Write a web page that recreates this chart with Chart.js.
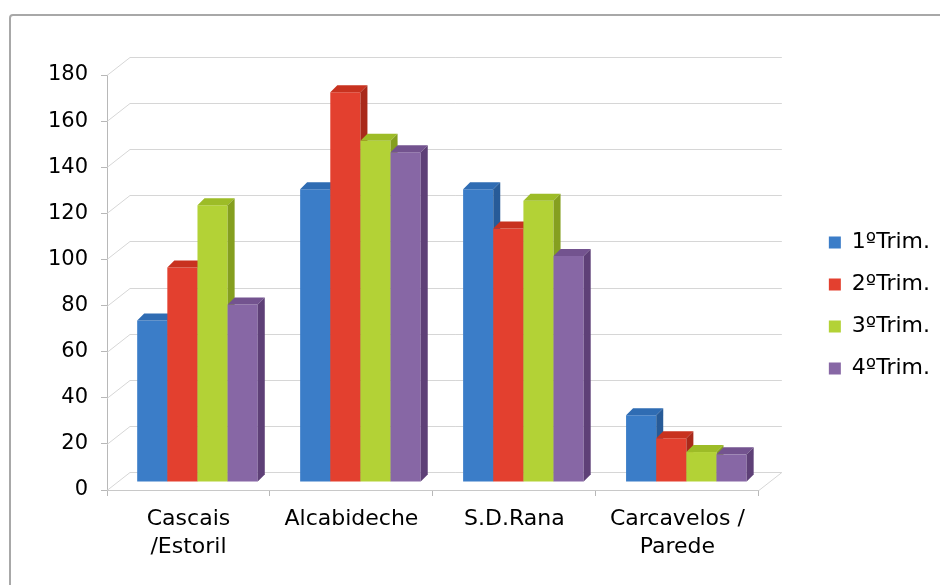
<!DOCTYPE html>
<html>
<head>
<meta charset="utf-8">
<script src="https://cdn.jsdelivr.net/npm/chart.js@4"></script>
<style>
  html, body { margin: 0; padding: 0; background: #fff; overflow: hidden; }
  #wrap { position: relative; width: 940px; height: 585px; }
  #frame { position: absolute; left: 9px; top: 14px; width: 1000px; height: 1000px;
           border: 2px solid #a8a8a8; border-radius: 4px; box-sizing: border-box; pointer-events: none; }
  canvas { position: absolute; left: 0; top: 0; }
</style>
</head>
<body>
<div id="wrap">
  <canvas id="c" width="940" height="585"></canvas>
  <div id="frame"></div>
</div>
<script>
const categories = [["Cascais", "/Estoril"], "Alcabideche", "S.D.Rana", ["Carcavelos /", "Parede"]];
const seriesNames = ["1ºTrim.", "2ºTrim.", "3ºTrim.", "4ºTrim."];
const trim1 = [70, 127, 127, 29];
const trim2 = [93, 169, 110, 19];
const trim3 = [120, 148, 122, 13];
const trim4 = [77, 143, 98, 12];
const yTicks = [0, 20, 40, 60, 80, 100, 120, 140, 160, 180];

const frontColors = ["#3b7dc8", "#e3402f", "#b3d236", "#8767a5"];
const topColors   = ["#2f6cb3", "#c8321f", "#9dbc27", "#73538f"];
const sideColors  = ["#275b98", "#a9291a", "#859f1f", "#5e4077"];

const FONT = "'DejaVu Sans', Verdana, sans-serif";
const BAR_DX = 9, BAR_DY = -8;   // bar plane offset
const DEPTH = 7;                 // bar depth
const WALL_DX = 23, WALL_DY = -18;

const depthPlugin = {
  id: 'depth3d',
  beforeDatasetsDraw(chart) {
    const ctx = chart.ctx;
    const ys = chart.scales.y;
    const L = chart.chartArea.left, R = chart.chartArea.right;
    // back wall gridlines
    ctx.save();
    ctx.strokeStyle = '#d6d6d6';
    ctx.lineWidth = 1;
    yTicks.forEach(v => {
      const y = Math.round(ys.getPixelForValue(v)) + 0.5;
      ctx.beginPath();
      ctx.moveTo(L, y);
      ctx.lineTo(L + WALL_DX, y + WALL_DY);
      ctx.lineTo(R + WALL_DX, y + WALL_DY);
      ctx.stroke();
    });
    const y0 = Math.round(ys.getPixelForValue(0)) + 0.5;
    ctx.beginPath();
    ctx.moveTo(R, y0);
    ctx.lineTo(R + WALL_DX, y0 + WALL_DY);
    ctx.stroke();
    ctx.restore();
    // bars, series 1 first so each next bar covers the previous side face
    chart.data.datasets.forEach((ds, i) => {
      const meta = chart.getDatasetMeta(i);
      if (meta.hidden) return;
      ctx.save();
      ctx.translate(BAR_DX, BAR_DY);
      meta.data.forEach(el => {
        el.draw(ctx, chart.chartArea);
        const p = el.getProps(['x', 'y', 'base', 'width'], true);
        const l = p.x - p.width / 2, r = p.x + p.width / 2;
        const top = Math.min(p.y, p.base), bot = Math.max(p.y, p.base);
        ctx.fillStyle = topColors[i];
        ctx.beginPath();
        ctx.moveTo(l, top);
        ctx.lineTo(l + DEPTH, top - DEPTH);
        ctx.lineTo(r + DEPTH, top - DEPTH);
        ctx.lineTo(r, top);
        ctx.closePath();
        ctx.fill();
        ctx.fillStyle = sideColors[i];
        ctx.beginPath();
        ctx.moveTo(r, top);
        ctx.lineTo(r + DEPTH, top - DEPTH);
        ctx.lineTo(r + DEPTH, bot - DEPTH);
        ctx.lineTo(r, bot);
        ctx.closePath();
        ctx.fill();
      });
      ctx.restore();
    });
    return false;
  }
};

const seriesData = [trim1, trim2, trim3, trim4];
const datasets = seriesNames.map((name, i) => ({
  label: name,
  data: seriesData[i],
  backgroundColor: frontColors[i],
  borderWidth: 0,
  categoryPercentage: 0.74,
  barPercentage: 1.0,
  xAxisID: 'x',
  yAxisID: 'y'
}));

new Chart(document.getElementById('c'), {
  type: 'bar',
  data: { labels: categories, datasets },
  plugins: [depthPlugin],
  options: {
    responsive: false,
    animation: false,
    devicePixelRatio: 1,
    layout: { padding: { top: 26, left: 0, right: 0, bottom: 0 } },
    plugins: {
      legend: {
        position: 'right',
        labels: {
          boxWidth: 12, boxHeight: 12, padding: 20,
          color: '#000',
          font: { family: FONT, size: 22 }
        }
      },
      tooltip: { enabled: false }
    },
    scales: {
      x: {
        position: 'bottom',
        afterFit: s => { s.height = 95; },
        grid: { display: true, drawOnChartArea: false, offset: true, tickLength: 6, color: '#b8b8b8' },
        border: { display: true, color: '#c8c8c8' },
        ticks: { color: '#000', padding: 9, maxRotation: 0, autoSkip: false,
                 font: { family: FONT, size: 22, lineHeight: 1.27 } }
      },
      y: {
        position: 'left',
        min: 0, max: 180,
        afterFit: s => { s.width = 107; },
        afterBuildTicks: s => { s.ticks = yTicks.map(v => ({ value: v })); },
        grid: { display: true, drawOnChartArea: false, tickLength: 6, color: '#b8b8b8' },
        border: { display: true, color: '#b8b8b8' },
        ticks: { color: '#000', padding: 13, font: { family: FONT, size: 21 } }
      },
      xTop: {
        type: 'linear', axis: 'x', position: 'top', display: true,
        afterFit: s => { s.height = 49; },
        grid: { display: false }, border: { display: false }, ticks: { display: false }
      },
      yRight: {
        type: 'linear', axis: 'y', position: 'right', display: true,
        afterFit: s => { s.width = 50; },
        grid: { display: false }, border: { display: false }, ticks: { display: false }
      }
    }
  }
});
</script>
</body>
</html>
